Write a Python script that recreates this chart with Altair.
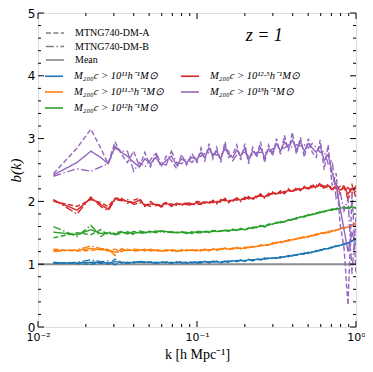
import altair as alt
import pandas as pd

# wavenumbers [h/Mpc]
k = [0.0125, 0.0176, 0.0215, 0.0248, 0.0276, 0.0305, 0.0335, 0.0365, 0.040, 0.0435,
     0.047, 0.051, 0.055, 0.0595, 0.064, 0.069, 0.0745, 0.080, 0.086, 0.093, 0.100,
     0.106, 0.112, 0.119, 0.126, 0.133, 0.141, 0.150, 0.158, 0.168, 0.178,
     0.188, 0.200, 0.211, 0.224, 0.237, 0.251, 0.266, 0.282, 0.299, 0.316,
     0.335, 0.355, 0.376, 0.398, 0.422, 0.447, 0.473, 0.501, 0.531, 0.562,
     0.596, 0.631, 0.668, 0.708, 0.750, 0.794, 0.841, 0.891, 0.944, 1.000]

L11 = "M₂₀₀c > 10¹¹h⁻¹M⊙"
L115 = "M₂₀₀c > 10¹¹·⁵h⁻¹M⊙"
L12 = "M₂₀₀c > 10¹²h⁻¹M⊙"
L125 = "M₂₀₀c > 10¹²·⁵h⁻¹M⊙"
L13 = "M₂₀₀c > 10¹³h⁻¹M⊙"

samples = ["MTNG740-DM-A", "MTNG740-DM-B", "Mean"]

blue_mean = [1.02, 1.02, 1.03, 1.03, 1.02, 1.04, 1.03, 1.02, 1.03, 1.04, 1.03, 1.03, 1.02, 1.03, 1.03, 1.02, 1.03, 1.03, 1.02, 1.03, 1.03,
             1.03, 1.04, 1.03, 1.04, 1.04, 1.03, 1.05, 1.04, 1.05, 1.05, 1.06, 1.05, 1.07, 1.06, 1.08, 1.07, 1.09, 1.09, 1.10, 1.10,
             1.11, 1.12, 1.13, 1.14, 1.15, 1.16, 1.17, 1.18, 1.19, 1.21, 1.22, 1.24, 1.25, 1.27, 1.29, 1.30, 1.32, 1.34, 1.37, 1.40]
blue_a = [1.03, 1.01, 1.00, 1.02, 1.00, 1.08, 1.02, 1.03, 1.02, 1.05, 1.02, 1.04, 1.01, 1.04, 1.02, 1.03, 1.02, 1.04, 1.02, 1.02, 1.04,
          1.04, 1.03, 1.04, 1.03, 1.05, 1.02, 1.05, 1.05, 1.04, 1.06, 1.05, 1.06, 1.06, 1.07, 1.07, 1.08, 1.08, 1.10, 1.09, 1.11,
          1.10, 1.13, 1.12, 1.15, 1.14, 1.17, 1.16, 1.19, 1.18, 1.22, 1.21, 1.25, 1.24, 1.28, 1.28, 1.31, 1.31, 1.35, 1.36, 1.41]
blue_b = [1.01, 1.03, 1.07, 1.04, 1.05, 0.99, 1.05, 1.01, 1.04, 1.03, 1.04, 1.02, 1.03, 1.02, 1.04, 1.01, 1.04, 1.02, 1.03, 1.04, 1.02,
          1.02, 1.05, 1.02, 1.05, 1.03, 1.04, 1.04, 1.03, 1.06, 1.04, 1.07, 1.04, 1.08, 1.05, 1.09, 1.06, 1.10, 1.08, 1.11, 1.09,
          1.12, 1.11, 1.14, 1.13, 1.16, 1.15, 1.18, 1.17, 1.20, 1.20, 1.23, 1.23, 1.26, 1.26, 1.30, 1.29, 1.33, 1.33, 1.38, 1.39]

orange_mean = [1.22, 1.22, 1.25, 1.23, 1.23, 1.19, 1.23, 1.22, 1.22, 1.23, 1.22, 1.23, 1.22, 1.21, 1.22, 1.22, 1.21, 1.22, 1.22, 1.22, 1.22,
               1.22, 1.23, 1.22, 1.24, 1.23, 1.24, 1.25, 1.24, 1.25, 1.26, 1.25, 1.26, 1.27, 1.28, 1.28, 1.30, 1.30, 1.31, 1.33, 1.34,
               1.35, 1.36, 1.38, 1.39, 1.40, 1.42, 1.43, 1.44, 1.46, 1.47, 1.49, 1.50, 1.51, 1.53, 1.54, 1.56, 1.58, 1.59, 1.62, 1.65]
orange_a = [1.24, 1.21, 1.22, 1.24, 1.21, 1.24, 1.20, 1.24, 1.21, 1.22, 1.24, 1.21, 1.23, 1.22, 1.21, 1.23, 1.22, 1.21, 1.23, 1.21, 1.23,
            1.23, 1.22, 1.23, 1.23, 1.24, 1.23, 1.26, 1.23, 1.26, 1.25, 1.26, 1.25, 1.28, 1.27, 1.29, 1.29, 1.31, 1.30, 1.34, 1.33,
            1.36, 1.35, 1.39, 1.38, 1.41, 1.41, 1.44, 1.43, 1.47, 1.46, 1.50, 1.49, 1.52, 1.52, 1.55, 1.55, 1.59, 1.58, 1.63, 1.64]
orange_b = [1.20, 1.23, 1.29, 1.25, 1.24, 1.14, 1.25, 1.21, 1.24, 1.23, 1.21, 1.24, 1.21, 1.20, 1.23, 1.21, 1.20, 1.23, 1.21, 1.23, 1.21,
            1.21, 1.24, 1.21, 1.25, 1.22, 1.25, 1.24, 1.25, 1.24, 1.27, 1.24, 1.27, 1.26, 1.29, 1.27, 1.31, 1.29, 1.32, 1.32, 1.35,
            1.34, 1.37, 1.37, 1.40, 1.39, 1.43, 1.42, 1.45, 1.45, 1.48, 1.48, 1.51, 1.50, 1.54, 1.53, 1.57, 1.57, 1.60, 1.61, 1.66]

green_mean = [1.51, 1.47, 1.55, 1.49, 1.50, 1.48, 1.51, 1.50, 1.49, 1.51, 1.50, 1.52, 1.51, 1.53, 1.52, 1.51, 1.50, 1.51, 1.50, 1.51, 1.51,
              1.51, 1.52, 1.51, 1.53, 1.52, 1.53, 1.54, 1.53, 1.55, 1.54, 1.56, 1.55, 1.57, 1.58, 1.59, 1.61, 1.60, 1.63, 1.64, 1.66,
              1.67, 1.68, 1.70, 1.71, 1.73, 1.75, 1.76, 1.78, 1.79, 1.81, 1.83, 1.84, 1.86, 1.87, 1.88, 1.89, 1.90, 1.89, 1.91, 1.90]
green_a = [1.42, 1.50, 1.47, 1.55, 1.47, 1.50, 1.52, 1.48, 1.52, 1.50, 1.49, 1.53, 1.50, 1.52, 1.53, 1.50, 1.51, 1.50, 1.51, 1.49, 1.52,
           1.52, 1.51, 1.53, 1.52, 1.54, 1.52, 1.55, 1.52, 1.56, 1.53, 1.57, 1.54, 1.58, 1.57, 1.60, 1.60, 1.62, 1.62, 1.65, 1.65,
           1.68, 1.67, 1.71, 1.70, 1.74, 1.74, 1.77, 1.77, 1.80, 1.80, 1.84, 1.83, 1.87, 1.86, 1.89, 1.88, 1.92, 1.87, 1.93, 1.88]
green_b = [1.60, 1.44, 1.62, 1.44, 1.52, 1.47, 1.49, 1.52, 1.47, 1.53, 1.51, 1.50, 1.53, 1.52, 1.50, 1.52, 1.49, 1.52, 1.49, 1.52, 1.50,
           1.50, 1.53, 1.50, 1.54, 1.51, 1.54, 1.53, 1.54, 1.54, 1.55, 1.55, 1.56, 1.56, 1.59, 1.58, 1.62, 1.59, 1.64, 1.63, 1.67,
           1.66, 1.69, 1.69, 1.72, 1.72, 1.76, 1.75, 1.79, 1.78, 1.82, 1.82, 1.85, 1.85, 1.88, 1.87, 1.90, 1.88, 1.91, 1.89, 1.92]

red_mean = [2.02, 1.86, 2.05, 1.95, 1.88, 2.04, 2.03, 2.00, 1.98, 2.02, 1.93, 1.96, 1.95, 1.93, 1.97, 1.94, 1.96, 1.95, 1.97, 1.95, 1.98,
            1.97, 1.99, 1.98, 2.00, 1.98, 2.01, 2.03, 2.00, 2.02, 2.04, 2.02, 2.05, 2.06, 2.04, 2.08, 2.10, 2.07, 2.11, 2.13, 2.12,
            2.15, 2.14, 2.18, 2.16, 2.20, 2.19, 2.22, 2.20, 2.25, 2.23, 2.27, 2.22, 2.25, 2.20, 2.24, 2.18, 2.22, 2.12, 2.20, 2.15]
red_a = [2.00, 1.92, 2.03, 1.98, 1.92, 2.05, 2.05, 1.97, 2.02, 2.05, 1.92, 2.00, 1.93, 1.95, 1.98, 1.92, 1.97, 1.93, 1.99, 1.96, 2.00,
         1.99, 1.97, 2.00, 1.98, 2.00, 1.99, 2.05, 1.98, 2.04, 2.02, 2.04, 2.03, 2.08, 2.02, 2.10, 2.08, 2.09, 2.09, 2.15, 2.10,
         2.17, 2.12, 2.20, 2.14, 2.22, 2.17, 2.24, 2.18, 2.28, 2.20, 2.30, 2.19, 2.28, 2.16, 2.28, 2.12, 2.27, 2.02, 2.26, 2.05]
red_b = [2.03, 1.80, 2.07, 1.92, 1.85, 2.03, 2.01, 2.03, 1.95, 1.98, 1.95, 1.92, 1.97, 1.91, 1.96, 1.96, 1.94, 1.97, 1.95, 1.94, 1.96,
         1.95, 2.01, 1.96, 2.02, 1.96, 2.03, 2.01, 2.02, 2.00, 2.06, 2.00, 2.07, 2.04, 2.06, 2.06, 2.12, 2.05, 2.13, 2.11, 2.14,
         2.13, 2.16, 2.16, 2.18, 2.18, 2.21, 2.20, 2.22, 2.22, 2.26, 2.24, 2.25, 2.22, 2.24, 2.20, 2.24, 2.17, 2.22, 2.14, 2.25]

purple_mean = [2.42, 2.62, 2.80, 2.70, 2.60, 2.88, 2.78, 2.72, 2.62, 2.55, 2.68, 2.60, 2.70, 2.58, 2.65, 2.72, 2.58, 2.68, 2.62, 2.70, 2.66,
               2.78, 2.70, 2.85, 2.72, 2.80, 2.68, 2.88, 2.75, 2.70, 2.82, 2.72, 2.85, 2.66, 2.80, 2.74, 2.86, 2.70, 2.84, 2.78, 2.92,
               2.80, 2.95, 2.85, 2.98, 2.82, 2.95, 2.80, 2.92, 2.85, 2.78, 2.88, 2.65, 2.75, 2.45, 2.25, 1.90, 1.55, 1.20, 1.50, 1.30]
purple_a = [2.44, 2.85, 3.15, 2.85, 2.60, 2.95, 2.75, 2.62, 2.80, 2.55, 2.78, 2.55, 2.75, 2.55, 2.72, 2.65, 2.52, 2.75, 2.58, 2.76, 2.62,
            2.85, 2.65, 2.92, 2.68, 2.86, 2.62, 2.95, 2.70, 2.75, 2.90, 2.66, 2.92, 2.60, 2.86, 2.70, 2.95, 2.62, 2.90, 2.72, 3.00,
            2.75, 3.05, 2.80, 3.10, 2.75, 3.02, 2.70, 3.00, 2.78, 2.70, 2.98, 2.50, 2.90, 2.25, 2.45, 1.65, 1.25, 0.35, 2.15, 0.85]
purple_b = [2.40, 2.52, 2.48, 2.55, 2.60, 2.85, 2.80, 2.80, 2.48, 2.62, 2.55, 2.66, 2.78, 2.60, 2.58, 2.80, 2.62, 2.60, 2.68, 2.62, 2.72,
            2.72, 2.76, 2.78, 2.76, 2.74, 2.74, 2.82, 2.80, 2.65, 2.74, 2.78, 2.78, 2.72, 2.74, 2.78, 2.78, 2.78, 2.78, 2.84, 2.84,
            2.85, 2.85, 2.90, 2.86, 2.90, 2.88, 2.90, 2.85, 2.92, 2.86, 2.78, 2.80, 2.60, 2.65, 2.05, 2.15, 1.85, 2.05, 0.85, 1.75]

bins = [
    (L11, blue_a, blue_b, blue_mean),
    (L115, orange_a, orange_b, orange_mean),
    (L12, green_a, green_b, green_mean),
    (L125, red_a, red_b, red_mean),
    (L13, purple_a, purple_b, purple_mean),
]

# tick positions
x_major = [0.01, 0.1, 1.0]
x_minor = [0.02, 0.03, 0.04, 0.05, 0.06, 0.07, 0.08, 0.09,
           0.2, 0.3, 0.4, 0.5, 0.6, 0.7, 0.8, 0.9]
y_major = [0, 1, 2, 3, 4, 5]
y_minor = [0.2, 0.4, 0.6, 0.8, 1.2, 1.4, 1.6, 1.8, 2.2, 2.4, 2.6, 2.8,
           3.2, 3.4, 3.6, 3.8, 4.2, 4.4, 4.6, 4.8]

rows = []
for lbl, a, b, m in bins:
    for name, vals in zip(samples, (a, b, m)):
        for kk, v in zip(k, vals):
            rows.append({"k": kk, "b": v, "bin": lbl, "sample": name})
df = pd.DataFrame(rows)

W, H = 318, 314

xscale = alt.Scale(type="log", domain=[0.01, 1.0], nice=False)
yscale = alt.Scale(domain=[0, 5], nice=False, zero=False)

xaxis = alt.Axis(values=x_major, ticks=False, domain=False, grid=False,
                 labelExpr="datum.value < 0.05 ? '10⁻²' : datum.value < 0.5 ? '10⁻¹' : '10⁰'",
                 labelFlush=False, labelOverlap=False, labelPadding=4,
                 labelFont="DejaVu Sans", labelFontSize=11, labelColor="black",
                 title="k  [h Mpc⁻¹]", titleFont="Liberation Serif", titleFontSize=14,
                 titleFontWeight="normal", titleColor="black", titlePadding=5)
yaxis = alt.Axis(values=y_major, ticks=False, domain=False, grid=False,
                 labelFlush=False, labelOverlap=False, labelPadding=3,
                 labelFont="DejaVu Sans", labelFontSize=12, labelColor="black",
                 title="b(k)", titleFont="Liberation Serif", titleFontStyle="italic",
                 titleFontSize=15, titleFontWeight="normal", titleColor="black",
                 titlePadding=4)

cdomain = [L11, L115, L12, L125, L13]
crange = ["#1f77b4", "#ff7f0e", "#2ca02c", "#d62728", "#9467bd"]
cscale = alt.Scale(domain=cdomain, range=crange)
clegend = alt.Legend(orient="none", legendX=6, legendY=53, columns=2, title=None,
                     symbolType="stroke", symbolSize=324, symbolStrokeWidth=1.6,
                     labelFont="Liberation Serif", labelFontStyle="italic", labelFontSize=10.5,
                     labelColor="black", labelOffset=10, rowPadding=-1.5, columnPadding=13,
                     padding=0, labelLimit=200)

dscale = alt.Scale(domain=samples, range=[[5, 2.5], [8, 2.5, 1.5, 2.5], [1, 0]])
dlegend = alt.Legend(orient="none", legendX=9, legendY=12, title=None,
                     symbolType="M-1.3,0H1.3", symbolSize=196, symbolStrokeWidth=1.6,
                     symbolStrokeColor="#7f7f7f", symbolFillColor="#7f7f7f",
                     labelFont="Liberation Serif", labelFontSize=10, labelColor="black",
                     labelOffset=12, rowPadding=0.5, padding=0)

layers = []

hline = alt.Chart(pd.DataFrame({"b": [1.0]})).mark_rule(color="#8c8c8c", strokeWidth=2).encode(
    y=alt.Y("b:Q", scale=yscale, axis=yaxis))
layers.append(hline)

for lbl, a, b, m in bins:
    layers.append(
        alt.Chart(df).transform_filter(alt.datum.bin == lbl).mark_line(strokeWidth=1.4, clip=True).encode(
            x=alt.X("k:Q", scale=xscale, axis=xaxis),
            y=alt.Y("b:Q", scale=yscale, axis=yaxis),
            color=alt.Color("bin:N", scale=cscale, legend=clegend),
            strokeDash=alt.StrokeDash("sample:N", scale=dscale, legend=dlegend),
        )
    )

# inward ticks
xt_major = pd.DataFrame({"k": x_major})
xt_minor = pd.DataFrame({"k": x_minor})
yt_major = pd.DataFrame({"b": y_major})
yt_minor = pd.DataFrame({"b": y_minor})

def xticks(d, length):
    enc_x = alt.X("k:Q", scale=xscale, axis=xaxis)
    bottom = alt.Chart(d).mark_rule(color="black", strokeWidth=1).encode(
        x=enc_x, y=alt.value(H), y2=alt.value(H - length))
    top = alt.Chart(d).mark_rule(color="black", strokeWidth=1).encode(
        x=enc_x, y=alt.value(0), y2=alt.value(length))
    return [bottom, top]

def yticks(d, length):
    enc_y = alt.Y("b:Q", scale=yscale, axis=yaxis)
    left = alt.Chart(d).mark_rule(color="black", strokeWidth=1).encode(
        y=enc_y, x=alt.value(0), x2=alt.value(length))
    right = alt.Chart(d).mark_rule(color="black", strokeWidth=1).encode(
        y=enc_y, x=alt.value(W), x2=alt.value(W - length))
    return [left, right]

layers += xticks(xt_major, 6) + xticks(xt_minor, 3) + yticks(yt_major, 6) + yticks(yt_minor, 3)

ztext = alt.Chart(pd.DataFrame({"k": [0.265], "b": [4.63], "t": ["z = 1"]})).mark_text(
    font="Liberation Serif", fontStyle="italic", fontSize=18, color="black").encode(
    x=alt.X("k:Q", scale=xscale, axis=xaxis),
    y=alt.Y("b:Q", scale=yscale, axis=yaxis),
    text="t:N")
layers.append(ztext)

chart = alt.layer(*layers).properties(
    width=W, height=H,
    autosize=alt.AutoSizeParams(type="none"),
    padding={"left": 30, "top": 5, "right": 9, "bottom": 37},
).configure_view(stroke="black", strokeWidth=1.3).configure(background="white")

chart.save("out.html", embed_options={"renderer": "svg", "actions": False})
